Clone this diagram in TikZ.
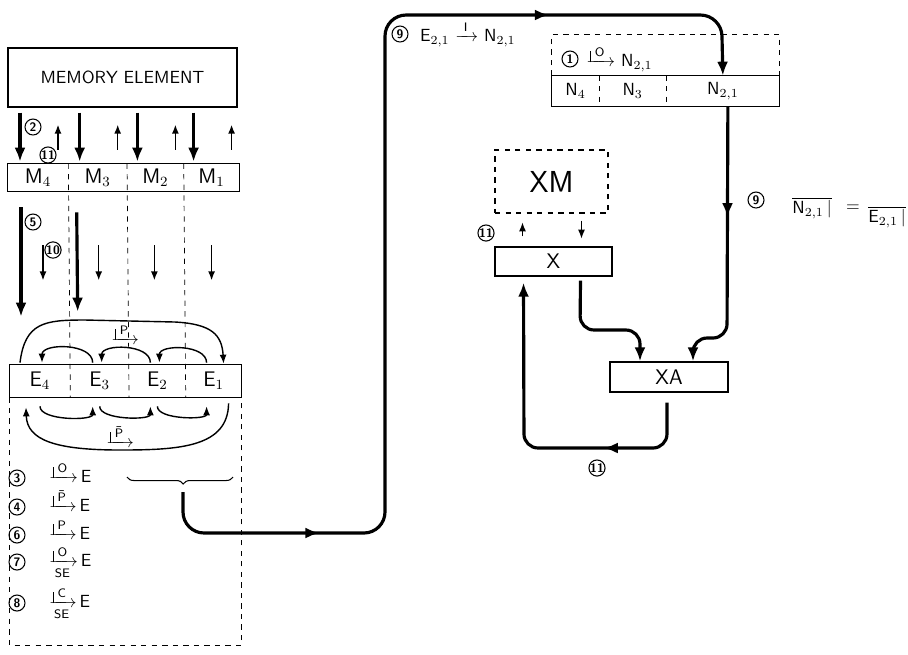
\documentclass[tikz,border=0pt]{standalone}
\usepackage{amsmath,amssymb}
\usepackage{tikz}
\usetikzlibrary{arrows.meta,positioning,calc,decorations.pathreplacing,decorations.markings}
\newcommand{\lop}[1]{\ensuremath{\rule[2.4pt]{.7pt}{6.5pt}\mkern-10mu\xrightarrow{\;\mathsf{#1}\;}}}
\newcommand{\lopse}[1]{\ensuremath{\rule[2.4pt]{.7pt}{6.5pt}\mkern-10mu\xrightarrow[\mathsf{SE}]{\;\mathsf{#1}\;}}}

\begin{document}
\begin{tikzpicture}[x=0.02cm,y=-0.02cm,font=\sffamily,
		box/.style={draw,thick,inner sep=0pt,font=\sffamily\large},
		cell/.style={inner sep=0pt,minimum height=0.54cm,font=\sffamily\large},
		num/.style={circle,draw,semithick,inner sep=0pt,minimum size=0.32cm,font=\sffamily\scriptsize\bfseries},
		flow/.style={line width=1.8pt,-{Latex[length=2.8mm,width=2.2mm]}},
		thinarr/.style={thick,-{Latex[length=1.8mm,width=1.4mm]}},
		midarr/.style={postaction={decorate,decoration={markings,mark=at position #1 with {\arrow{Latex[length=2.8mm,width=2.2mm]}}}}}
		]
		\useasboundingbox (0,0) rectangle (908,654);
		% memory element and the M row
		\node[box,minimum width=4.58cm,minimum height=1.18cm,font=\sffamily] (mem) at (122.5,77.5) {MEMORY ELEMENT};
		\node[cell,minimum width=1.2cm] (m4) at (38,177.5) {M$_4$};
		\node[cell,minimum width=1.16cm,right=0pt of m4] (m3) {M$_3$};
		\node[cell,minimum width=1.12cm,right=0pt of m3] (m2) {M$_2$};
		\node[cell,minimum width=1.1cm,right=0pt of m2] (m1) {M$_1$};
		\draw[thick] (m4.north west) rectangle (m1.south east);
		% the E row
		\node[cell,minimum width=1.2cm,minimum height=0.64cm] (e4) at (40,381) {E$_4$};
		\node[cell,minimum width=1.16cm,minimum height=0.64cm,right=0pt of e4] (e3) {E$_3$};
		\node[cell,minimum width=1.12cm,minimum height=0.64cm,right=0pt of e3] (e2) {E$_2$};
		\node[cell,minimum width=1.1cm,minimum height=0.64cm,right=0pt of e2] (e1) {E$_1$};
		\draw[thick] (e4.north west) rectangle (e1.south east);
		\draw[dashed] (m4.north east) -- (e4.south east);
		\draw[dashed] (m3.north east) -- (e3.south east);
		\draw[dashed] (m2.north east) -- (e2.south east);
		\draw[dashed] (e4.south west) -- ++(0,248) -| (e1.south east);
		% transfers memory <-> M
		\foreach \c in {m4,m3,m2,m1}{
			\draw[flow] ($(mem.south -| \c.north)+(-18,5)$) -- ($(\c.north)+(-18,-2)$);
			\draw[thinarr] ($(\c.north)+(20,-14)$) -- ($(\c.north)+(20,-39)$);
		}
		\node[num] (c2) at (33,127) {2};
		\node[num] (c11a) at (48,155) {11};
		% transfers M -> E
		\draw[flow] ($(m4.south)+(-17,16)$) -- ($(e4.north)+(-19,-48)$);
		\draw[flow] ($(m3.south)+(-21,21)$) -- ($(e3.north)+(-22,-53)$);
		\foreach \c/\d in {m4/5,m3/1,m2/-1,m1/0}
			\draw[thinarr] ($(\c.south)+(\d,54)$) -- ($(\c.south)+(\d,89)$);
		\node[num] (c5) at (33,222) {5};
		\node[num] (c10) at (53,250) {10};
		% shifts in the E row
		\foreach \a/\b in {e3/e4,e2/e3,e1/e2}
			\draw[thinarr] ($(\a.north)+(-7,-2)$) to[out=90,in=90] ($(\b.north)+(2,-2)$);
		\draw[thinarr] ($(e4.north)+(-20,-2)$) .. controls (25,322) and (45,320) .. (85,320) -- (175,322) .. controls (212,324) and (222,335) .. ($(e1.north)+(10,-1)$);
		\node (lp) at (127,334) {\lop{P}};
		\foreach \a/\b in {e4/e3,e3/e2,e2/e1}
			\draw[thinarr] ($(\a.south)+(0,9)$) to[out=-90,in=-90,looseness=0.7] ($(\b.south)+(-7,9)$);
		\draw[thinarr] ($(e1.south)+(15,6)$) .. controls (228,447) and (180,450) .. (120,450) .. controls (55,450) and (27,440) .. ($(e4.south)+(-14,10)$);
		\node (lpb) at (122,436) {\lop{\bar{P}}};
		% operations
		\node[num] (c3) at (17,478) {3};
		\node[base right=12pt of c3] (i3) {\lop{O}\,E};
		\node[num] (c4) at (17,507) {4};
		\node[base right=12pt of c4] (i4) {\lop{\bar{P}}\,E};
		\node[num] (c6) at (17,535) {6};
		\node[base right=12pt of c6] (i6) {\lop{P}\,E};
		\node[num] (c7) at (17,562) {7};
		\node[base right=12pt of c7] (i7) {\lopse{O}\,E};
		\node[num] (c8) at (17,603) {8};
		\node[base right=12pt of c8] (i8) {\lopse{C}\,E};
		\draw[semithick,decorate,decoration={brace,amplitude=4pt,aspect=0.47}] (233,477) -- (127,477);
		\coordinate (brtip) at (183,492);
		% N row
		\node[cell,minimum width=0.94cm,minimum height=0.6cm,font=\sffamily] (N4) at (575.5,91) {N$_4$};
		\node[cell,minimum width=1.32cm,minimum height=0.6cm,font=\sffamily,right=0pt of N4] (N3) {N$_3$};
		\node[cell,minimum width=2.26cm,minimum height=0.6cm,font=\sffamily,right=0pt of N3] (N21) {N$_{2,1}$};
		\draw[thick] (N4.north west) rectangle (N21.south east);
		\draw[dashed] (N4.north east) -- (N4.south east);
		\draw[dashed] (N3.north east) -- (N3.south east);
		\draw[dashed] (N4.north west) -- ++(0,-41) -| (N21.north east);
		\node[num] (c1) at (570,59) {1};
		\node[right=3pt of c1] (lbl1) {\lop{O}\ N$_{2,1}$};
		\draw[flow,rounded corners=12pt,midarr=0.15,midarr=0.8] (brtip) -- (183,533) -- (385,533) -- (385,15) -- (721.5,15) -- (N21.north);
		\node[num] (c9a) at (400,34) {9};
		\node[right=3pt of c9a] (lbl9a) {E$_{2,1}$ $\xrightarrow{\;\mathsf{I}\;}$ N$_{2,1}$};
		% X, XM and XA
		\node[draw,dashed,thick,minimum width=2.26cm,minimum height=1.26cm,font=\sffamily\LARGE] (xm) at (551.5,181.5) {XM};
		\node[box,minimum width=2.34cm,minimum height=0.58cm] (xbox) at (553.5,261.5) {X};
		\node[box,minimum width=2.36cm,minimum height=0.6cm] (xa) at (669,377) {XA};
		\draw[thinarr] ($(xbox.north)+(-31,-10)$) -- ($(xbox.north)+(-31,-24)$);
		\draw[thinarr] ($(xm.south)+(30,7)$) -- ($(xm.south)+(30,25)$);
		\node[num] (c11b) at (486,233) {11};
		\draw[flow,rounded corners=8pt] ($(xbox.south)+(27,4)$) -- (580,330) -- (640,330) -- ($(xa.north)+(-29,0)$);
		\draw[flow,rounded corners=8pt,midarr=0.4] ($(N21.south)+(5,0)$) -- (727,338) -- (693,338) -- ($(xa.north)+(24,0)$);
		\draw[flow,rounded corners=8pt,midarr=0.3] ($(xa.south)+(-2,10)$) -- (667,448) -- (524,448) -- ($(xbox.south)+(-30,6)$);
		\node[num] (c11c) at (597,468) {11};
		\node[num] (c9b) at (756,200) {9};
		\node (nbar) at (812,208) {$\overline{\mathsf{N}_{2,1}\,|}$};
		\node (eq) at (853,208) {=};
		\node (ebar) at (887,217) {$\overline{\mathsf{E}_{2,1}\,|}$};
	\end{tikzpicture}
\end{document}
